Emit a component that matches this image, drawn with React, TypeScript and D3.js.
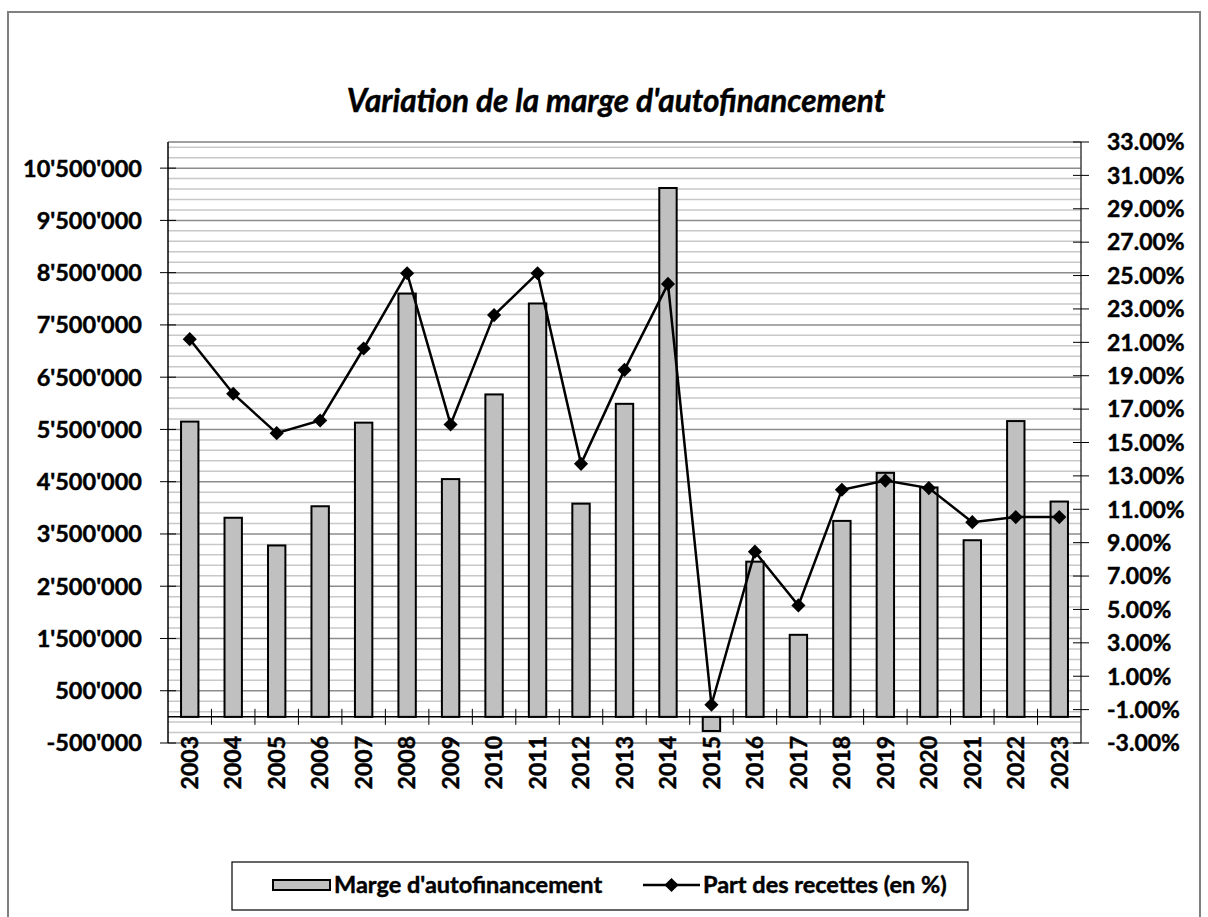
import React from "react";
import * as d3 from "d3";

const years = ["2003","2004","2005","2006","2007","2008","2009","2010","2011","2012","2013","2014","2015","2016","2017","2018","2019","2020","2021","2022","2023"];
const marge = [5650000, 3810000, 3280000, 4030000, 5630000, 8100000, 4550000, 6170000, 7910000, 4080000, 5990000, 10120000, -270000, 2970000, 1570000, 3750000, 4670000, 4390000, 3380000, 5660000, 4120000];
const part = [21.19, 17.92, 15.56, 16.32, 20.63, 25.14, 16.08, 22.63, 25.14, 13.72, 19.35, 24.5, -0.71, 8.46, 5.24, 12.17, 12.72, 12.27, 10.23, 10.53, 10.53];
const leftTicks = [-500000, 500000, 1500000, 2500000, 3500000, 4500000, 5500000, 6500000, 7500000, 8500000, 9500000, 10500000];
const rightTicks = [-3, -1, 1, 3, 5, 7, 9, 11, 13, 15, 17, 19, 21, 23, 25, 27, 29, 31, 33];
const title = "Variation de la marge d'autofinancement";
const legendBar = "Marge d'autofinancement";
const legendLine = "Part des recettes (en %)";

const W = 1208, H = 917;
const plot = { l: 168, r: 1081, t: 142, b: 743 };
const FONT = "Lato, 'Open Sans', sans-serif";
const bold = { fontFamily: FONT, fontWeight: "bold" as const, stroke: "#000", strokeWidth: 0.45 };

const loc = d3.formatLocale({ decimal: ".", thousands: "'", grouping: [3], currency: ["", ""], minus: "-" });
const fmtL = loc.format(",");

export default function App() {
  const x = d3.scaleBand<string>().domain(years).range([plot.l, plot.r]).padding(0);
  const yL = d3.scaleLinear().domain([-500000, 11000000]).range([plot.b, plot.t]);
  const yR = d3.scaleLinear().domain([-3, 33]).range([plot.b, plot.t]);
  const bw = x.bandwidth() * 0.4;
  const cx = (y: string) => (x(y) as number) + x.bandwidth() / 2;

  const grid = d3.range(-300000, 11000001, 200000);
  const y0 = yL(0);
  const line = d3.line<number>().x((_, i) => cx(years[i])).y((d) => yR(d));
  const diamond = d3.symbol().type(d3.symbolSquare).size(100)();

  return (
    <svg width={W} height={H} style={{ position: "absolute", left: 0, top: 0, background: "#fff" }}>
      <rect x={8} y={12} width={1192} height={920} fill="#fff" stroke="#808080" strokeWidth={2} />
      <text x={616} y={112} textAnchor="middle" {...bold} fontStyle="italic" fontSize={31.5}>{title}</text>

      {grid.map((g) => {
        const major = Math.abs(((g + 500000) % 1000000)) < 1;
        return <line key={g} x1={plot.l} x2={plot.r} y1={yL(g)} y2={yL(g)} stroke={major ? "#8c8c8c" : "#c8c8c8"} strokeWidth={1.5} />;
      })}
      <line x1={plot.l} x2={plot.r} y1={plot.t} y2={plot.t} stroke="#808080" strokeWidth={1.5} />
      <line x1={plot.l} x2={plot.r} y1={plot.b} y2={plot.b} stroke="#808080" strokeWidth={1.5} />

      {marge.map((v, i) => (
        <rect key={years[i]} x={cx(years[i]) - bw / 2} y={Math.min(yL(v), y0)} width={bw} height={Math.abs(yL(v) - y0)} fill="#c0c0c0" stroke="#000" strokeWidth={2} />
      ))}

      <line x1={plot.l} x2={plot.r} y1={y0} y2={y0} stroke="#000" strokeWidth={1.5} />
      {years.slice(1).map((y) => (
        <line key={y} x1={x(y)} x2={x(y)} y1={y0 - 8} y2={y0 + 8} stroke="#000" strokeWidth={1} />
      ))}

      <line x1={plot.l} x2={plot.l} y1={plot.t} y2={plot.b} stroke="#000" strokeWidth={1.5} />
      {leftTicks.map((t) => (
        <g key={t}>
          <line x1={plot.l - 8} x2={plot.l + 8} y1={yL(t)} y2={yL(t)} stroke="#000" strokeWidth={1} />
          <text x={142} y={yL(t)} dy="0.36em" textAnchor="end" {...bold} fontSize={23.5}>{fmtL(t)}</text>
        </g>
      ))}

      <line x1={plot.r} x2={plot.r} y1={plot.t} y2={plot.b} stroke="#404040" strokeWidth={1.5} />
      {rightTicks.map((t) => (
        <g key={t}>
          <line x1={plot.r - 8} x2={plot.r + 8} y1={yR(t)} y2={yR(t)} stroke="#000" strokeWidth={1} />
          <text x={1107} y={yR(t)} dy="0.36em" textAnchor="start" {...bold} fontSize={23}>{t.toFixed(2) + "%"}</text>
        </g>
      ))}

      {years.map((y) => (
        <text key={y} transform={`translate(${cx(y)},736) rotate(-90)`} dy="0.36em" textAnchor="end" {...bold} fontSize={23}>{y}</text>
      ))}

      <path d={line(part) || ""} fill="none" stroke="#000" strokeWidth={2.5} />
      {part.map((p, i) => (
        <path key={years[i]} d={diamond || ""} transform={`translate(${cx(years[i])},${yR(p)}) rotate(45)`} fill="#000" />
      ))}

      <rect x={232} y={862} width={736} height={48} fill="#fff" stroke="#000" strokeWidth={1.2} />
      <rect x={273} y={880} width={57} height={10} fill="#c0c0c0" stroke="#000" strokeWidth={2} />
      <text x={334} y={885} dy="0.36em" {...bold} fontSize={23.5}>{legendBar}</text>
      <line x1={643} x2={700} y1={885} y2={885} stroke="#000" strokeWidth={2.5} />
      <path d={diamond || ""} transform={`translate(671.5,885) rotate(45)`} fill="#000" />
      <text x={703} y={885} dy="0.36em" {...bold} fontSize={23.5}>{legendLine}</text>
    </svg>
  );
}
